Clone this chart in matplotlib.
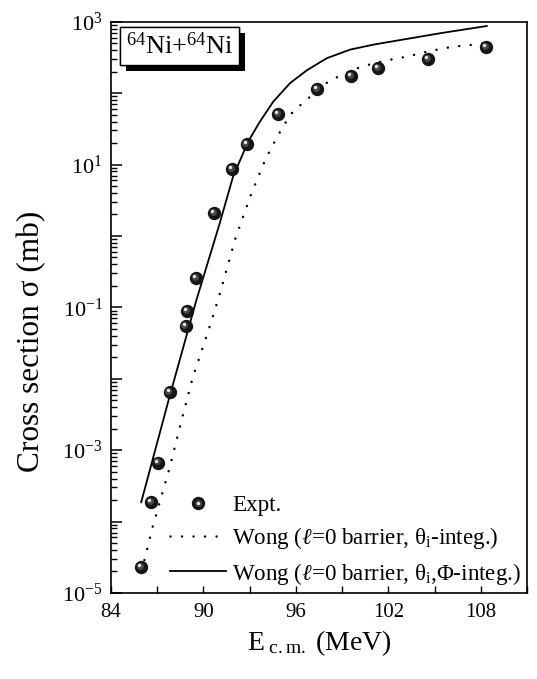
import numpy as np
import matplotlib
matplotlib.use('Agg')
import matplotlib.pyplot as plt
import matplotlib.ticker as mticker
import matplotlib.patheffects as pe
from matplotlib.transforms import ScaledTranslation
from matplotlib.legend_handler import HandlerTuple

plt.rcParams['font.family'] = ['Liberation Serif', 'DejaVu Serif']
plt.rcParams['mathtext.fontset'] = 'custom'
plt.rcParams['mathtext.rm'] = 'Liberation Serif'
plt.rcParams['mathtext.it'] = 'Liberation Serif:italic'
plt.rcParams['mathtext.bf'] = 'Liberation Serif:bold'

# experimental points (E_cm in MeV, sigma in mb)
e_expt = [85.96, 86.61, 87.04, 87.80, 88.84, 88.93, 89.54, 90.69, 91.84,
          92.80, 94.84, 97.36, 99.58, 101.32, 104.58, 108.36]
sig_expt = [2.3e-5, 1.9e-4, 6.7e-4, 6.6e-3, 0.055, 0.090, 0.255, 2.1, 8.6,
            19.2, 51.5, 113, 174, 222, 297, 438]

# Wong, theta_i-integrated (dotted) - log10(sigma)
e_theta = [86.17, 86.71, 87.36, 87.80, 88.56, 89.32, 90.30, 91.01, 92.08,
           93.12, 94.04, 94.79, 95.25, 95.73, 96.49, 97.97, 98.73, 100.23,
           101.70, 103.16, 104.70, 106.18, 107.61, 108.33]
lg_theta = [-4.54, -4.07, -3.58, -3.25, -2.60, -1.97, -1.34, -0.85, -0.03,
            0.60, 1.08, 1.39, 1.56, 1.72, 1.87, 2.14, 2.23, 2.37,
            2.45, 2.51, 2.59, 2.65, 2.68, 2.70]

# Wong, theta_i,Phi-integrated (solid) - log10(sigma)
e_phi = [85.96, 87.80, 89.54, 91.06, 91.92, 92.90, 93.66, 94.53, 95.62,
         96.71, 98.01, 99.53, 101.05, 103.22, 105.40, 108.39]
lg_phi = [-3.73, -2.25, -0.90, 0.18, 0.83, 1.32, 1.60, 1.88, 2.14,
          2.32, 2.49, 2.61, 2.68, 2.76, 2.84, 2.94]

fig = plt.figure(figsize=(5.37, 6.79), dpi=100)
ax = fig.add_axes([0.2067, 0.1267, 0.7747, 0.8413])

l1, = ax.plot(e_theta, 10 ** np.array(lg_theta), color='black', lw=1.8,
              linestyle=(0, (0.01, 4.6)), dash_capstyle='round')
l2, = ax.plot(e_phi, 10 ** np.array(lg_phi), color='black', lw=1.3)

# sphere-like markers: dark ball + offset lighter highlights
off1 = ax.transData + ScaledTranslation(-0.8 / 72, 0.8 / 72, fig.dpi_scale_trans)
off2 = ax.transData + ScaledTranslation(-1.4 / 72, 1.4 / 72, fig.dpi_scale_trans)
m1, = ax.plot(e_expt, sig_expt, 'o', ms=8.6, color='#151515', mec='#151515', zorder=4)
m2, = ax.plot(e_expt, sig_expt, 'o', ms=5, color='#474747', mew=0, zorder=5, transform=off1)
m3, = ax.plot(e_expt, sig_expt, 'o', ms=2.4, color='#e8e8e8', mew=0, zorder=6, transform=off2)

ax.set_yscale('log')
ax.set_xlim(84, 111)
ax.set_ylim(1e-5, 1e3)

ax.xaxis.set_major_locator(mticker.MultipleLocator(6))
ax.xaxis.set_minor_locator(mticker.MultipleLocator(3))
ax.yaxis.set_major_locator(mticker.LogLocator(base=10, numticks=20))
ax.yaxis.set_minor_locator(mticker.LogLocator(base=10, subs=np.arange(2, 10), numticks=20))

def ylab(v, pos):
    ex = int(round(np.log10(v)))
    if ex % 2 == 0:
        return ''
    return r'$10^{%d}$' % ex

ax.yaxis.set_major_formatter(mticker.FuncFormatter(ylab))
ax.tick_params(axis='both', which='both', direction='in', top=False, right=False)
ax.tick_params(axis='y', which='major', length=8, width=1.1, labelsize=16, pad=6)
ax.tick_params(axis='y', which='minor', length=4, width=1.0)
ax.tick_params(axis='x', which='both', length=5, width=1.0, labelsize=15, pad=7)
for s in ax.spines.values():
    s.set_linewidth(1.2)

ax.set_xlabel(r'E$_{\ \mathrm{c.m.}}$ (MeV)', fontsize=20, labelpad=5)
ax.set_ylabel('Cross section σ (mb)', fontsize=22.5)
ax.yaxis.set_label_coords(-0.155, 0.44)

txt = ax.text(0.036, 0.981, r'$^{64}$Ni+$^{64}$Ni', transform=ax.transAxes,
              fontsize=19, va='top', ha='left',
              bbox=dict(boxstyle='square,pad=0.22', fc='white', ec='black', lw=1.0))
txt.get_bbox_patch().set_path_effects(
    [pe.withSimplePatchShadow(offset=(4.3, -4.3), shadow_rgbFace='black', alpha=1.0), pe.Normal()])

ax.legend([(m1, m2, m3), l1, l2],
          ['Expt.', r'Wong ($\ell$=0 barrier, θ$_{\mathrm{i}}$-integ.)',
           r'Wong ($\ell$=0 barrier, θ$_{\mathrm{i}}$,Φ-integ.)'],
          handler_map={tuple: HandlerTuple(ndivide=1, pad=0)},
          loc='lower right', bbox_to_anchor=(1.02, -0.013), frameon=False,
          fontsize=16.6, handlelength=2.4, handletextpad=0.3, labelspacing=0.4,
          borderaxespad=0.2)

fig.savefig('out.png', dpi=100)
